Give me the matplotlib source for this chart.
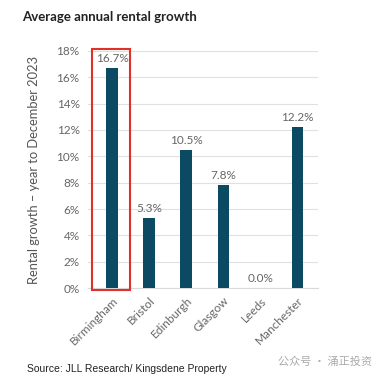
import matplotlib
matplotlib.use("Agg")
import matplotlib.pyplot as plt
from matplotlib.patches import Rectangle

cities = ["Birmingham", "Bristol", "Edinburgh", "Glasgow", "Leeds", "Manchester"]
growth = [16.7, 5.3, 10.5, 7.8, 0.0, 12.2]
yticks = [0, 2, 4, 6, 8, 10, 12, 14, 16, 18]

plt.rcParams['font.family'] = ['Lato', 'DejaVu Sans']
fig = plt.figure(figsize=(3.84, 3.80), dpi=100)
ax = fig.add_axes([0.229, 0.242, 0.599, 0.624])

x = list(range(len(cities)))
ax.bar(x, growth, width=0.31, color="#0b4a62", zorder=3)
for xi, v in zip(x, growth):
    ax.text(xi, v + 0.3, f"{v:.1f}%", ha="center", va="bottom", fontsize=8.5, color="#666666")

ax.set_xlim(-0.65, 5.55)
ax.set_ylim(0, 18)
ax.set_yticks(yticks)
ax.set_yticklabels([f"{t}%" for t in yticks], fontsize=8.5, color="#666666")
ax.set_xticks(x)
ax.set_xticklabels(cities, rotation=45, ha="right", rotation_mode="anchor", fontsize=8.5, color="#666666")
ax.tick_params(length=0, pad=6)
ax.tick_params(axis="x", pad=5)
ax.yaxis.grid(True, color="#e0e0e0", linewidth=0.8, zorder=0)
for s in ["top", "right", "left"]:
    ax.spines[s].set_visible(False)
ax.spines["bottom"].set_color("#d9d9d9")
ax.set_ylabel("Rental growth – year to December 2023", fontsize=9.3, color="#555555", labelpad=12)

ax.add_patch(Rectangle((-0.54, -0.15), 1.02, 18.3, fill=False, edgecolor="#e0302a",
                       linewidth=1.5, clip_on=False, zorder=4))

fig.text(0.057, 0.955, "Average annual rental growth", fontsize=9.5, fontweight="bold",
         color="#222222", va="center")
fig.text(0.07, 0.03, "Source: JLL Research/ Kingsdene Property", fontsize=7.5, color="#222222",
         va="center", family=["Liberation Sans", "DejaVu Sans"])
fig.text(0.97, 0.048, "公众号 · 涌正投资", fontsize=8, color="#aaaaaa", ha="right", va="center",
         family=["Noto Sans CJK SC", "DejaVu Sans"])

fig.savefig("out.png", dpi=100, facecolor="white")
